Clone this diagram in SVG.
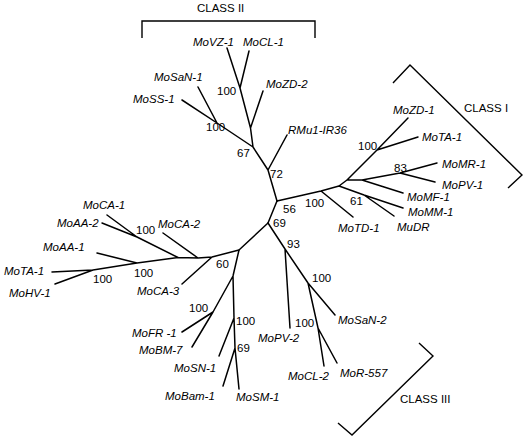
<svg xmlns="http://www.w3.org/2000/svg" width="523" height="438" viewBox="0 0 523 438">
<style>
.e{stroke:#000;stroke-width:1.5;fill:none;stroke-linecap:round;stroke-linejoin:round}
.b{stroke:#000;stroke-width:1.4;fill:none}
text{font-family:"Liberation Sans",Arial,Helvetica,sans-serif;font-size:11.5px;fill:#000}
.l{font-style:italic}
</style>
<rect width="523" height="438" fill="#fff"/>
<g id="connectors">
<path class="e" d="M277,201 L268,170 L253,147 L250.5,128 L240,88 L227,48 M240,88 L249,51 M250.5,128 L263,91 M268,170 L287,135 M253,147 L217,123 L182,100 M217,123 L198,87"/>
<path class="e" d="M277,201 L321,191 L339,186 L347,180 L377,150 L408,118 M377,150 L418,137 M347,180 L362,180 L400,173 L437,163 M400,173 L435,182 M362,180 L403,193 M339,186 L364,195 L403,208 M364,195 L394,216 M321,191 L353,217"/>
<path class="e" d="M277,201 L268,223 L239,250 L212,257 L198,258 L178,257.5 L137,263 L93,270 L52,272 M93,270 L55,284 M137,263 L97,253 M178,257.5 L137,237 L107,215 M137,237 L102,223 M198,258 L163,233 M212,257 L182,284"/>
<path class="e" d="M239,250 L233,276 L213,312 L182,332 M213,312 L192,347 M233,276 L234,318 L235,348 L239,389 M235,348 L223,386 M234,318 L219,356"/>
<path class="e" d="M268,223 L285,249 L290,328 M285,249 L308,283 L335,315 M308,283 L318,328 L324,366 M318,328 L337,363"/>
<path class="b" d="M142,38 L142,21 L315,21 L315,38"/>
<path class="b" d="M393,83 L410,65 L522,175 L508,188"/>
<path class="b" d="M419,343 L433,356 L352,435 L338,423"/>
</g>
<g id="classes">
<text x="197" y="11.5">CLASS II</text>
<text x="464" y="112">CLASS I</text>
<text x="400" y="403">CLASS III</text>
</g>
<g id="leaves">
<g id="MoVZ-1"><text class="l" x="193" y="46">MoVZ-1</text></g>
<g id="MoCL-1"><text class="l" x="243" y="46">MoCL-1</text></g>
<g id="MoSaN-1"><text class="l" x="154" y="81">MoSaN-1</text></g>
<g id="MoZD-2"><text class="l" x="266" y="88">MoZD-2</text></g>
<g id="MoSS-1"><text class="l" x="133" y="103">MoSS-1</text></g>
<g id="RMu1-IR36"><text class="l" x="288" y="134">RMu1-IR36</text></g>
<g id="MoZD-1"><text class="l" x="393" y="114">MoZD-1</text></g>
<g id="MoTA-1r"><text class="l" x="422" y="141">MoTA-1</text></g>
<g id="MoMR-1"><text class="l" x="442" y="168">MoMR-1</text></g>
<g id="MoPV-1"><text class="l" x="442" y="189">MoPV-1</text></g>
<g id="MoMF-1"><text class="l" x="407" y="201">MoMF-1</text></g>
<g id="MoMM-1"><text class="l" x="408" y="216">MoMM-1</text></g>
<g id="MuDR"><text class="l" x="397" y="231">MuDR</text></g>
<g id="MoTD-1"><text class="l" x="338" y="232">MoTD-1</text></g>
<g id="MoCA-1"><text class="l" x="83" y="209">MoCA-1</text></g>
<g id="MoAA-2"><text class="l" x="57" y="227">MoAA-2</text></g>
<g id="MoCA-2"><text class="l" x="158" y="228">MoCA-2</text></g>
<g id="MoAA-1"><text class="l" x="43" y="251">MoAA-1</text></g>
<g id="MoTA-1l"><text class="l" x="4" y="275">MoTA-1</text></g>
<g id="MoHV-1"><text class="l" x="9" y="297">MoHV-1</text></g>
<g id="MoCA-3"><text class="l" x="137" y="295">MoCA-3</text></g>
<g id="MoFR-1"><text class="l" x="132" y="337">MoFR -1</text></g>
<g id="MoBM-7"><text class="l" x="139" y="354">MoBM-7</text></g>
<g id="MoSN-1"><text class="l" x="174" y="372">MoSN-1</text></g>
<g id="MoBam-1"><text class="l" x="165" y="400">MoBam-1</text></g>
<g id="MoSM-1"><text class="l" x="236" y="401">MoSM-1</text></g>
<g id="MoPV-2"><text class="l" x="258" y="342">MoPV-2</text></g>
<g id="MoSaN-2"><text class="l" x="338" y="324">MoSaN-2</text></g>
<g id="MoCL-2"><text class="l" x="288" y="380">MoCL-2</text></g>
<g id="MoR-557"><text class="l" x="340" y="377">MoR-557</text></g>
</g>
<g id="bootstrap">
<text x="217" y="95">100</text>
<text x="206" y="131">100</text>
<text x="237" y="157">67</text>
<text x="270" y="178">72</text>
<text x="283" y="213">56</text>
<text x="273" y="227">69</text>
<text x="305" y="207">100</text>
<text x="358" y="150">100</text>
<text x="394" y="172">83</text>
<text x="350" y="205">61</text>
<text x="136" y="234">100</text>
<text x="134" y="277">100</text>
<text x="93" y="283">100</text>
<text x="216" y="268">60</text>
<text x="189" y="312">100</text>
<text x="236" y="325">100</text>
<text x="237" y="352">69</text>
<text x="287" y="248">93</text>
<text x="312" y="282">100</text>
<text x="295" y="327">100</text>
</g>
</svg>
